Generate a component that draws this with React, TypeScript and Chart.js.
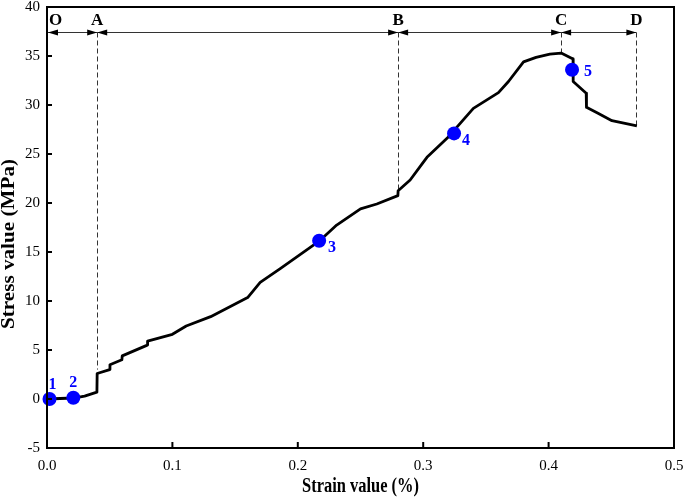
import React, { useEffect, useRef } from 'react';
import { Chart, registerables } from 'chart.js';

Chart.register(...registerables);

// ---- data ----
const strain = [0, 0.021, 0.03, 0.0398, 0.04, 0.05, 0.0502, 0.0597, 0.06, 0.08, 0.0802, 0.1, 0.111, 0.1305, 0.16, 0.17, 0.186, 0.217, 0.231, 0.25, 0.263, 0.2798, 0.28, 0.2896, 0.3, 0.303, 0.319, 0.34, 0.36, 0.368, 0.38, 0.39, 0.401, 0.41, 0.4195, 0.4196, 0.43, 0.4302, 0.4394, 0.4505, 0.4704];
const stress = [0, 0.1, 0.3, 0.7, 2.6, 3.0, 3.5, 4.0, 4.4, 5.5, 5.9, 6.6, 7.45, 8.4, 10.35, 11.9, 13.3, 16.1, 17.75, 19.4, 19.9, 20.75, 21.25, 22.35, 24.15, 24.66, 26.6, 29.66, 31.26, 32.4, 34.4, 34.86, 35.2, 35.3, 34.7, 32.4, 31.2, 29.76, 29.15, 28.4, 27.86];

const markerStrain = [0.002, 0.021, 0.217, 0.3246, 0.4187];
const markerStress = [0, 0.13, 16.15, 27.1, 33.6];
const markerLabels = ['1', '2', '3', '4', '5'];

const stageStrain = [0, 0.04, 0.28, 0.41, 0.47];
const stageLabels = ['O', 'A', 'B', 'C', 'D'];
const stageDashEnd: (number | null)[] = [null, 3.0, 21.3, 35.4, 27.9];
const arrowStress = 37.4;
const stageLabelStress = 38.6;

const xTicks = [0, 0.1, 0.2, 0.3, 0.4, 0.5];
const yTicks = [-5, 0, 5, 10, 15, 20, 25, 30, 35, 40];

const xTitle = 'Strain value (%)';
const yTitle = 'Stress value (MPa)';

// ---- styles ----
const SERIF = '"Liberation Serif", "Times New Roman", serif';
const BLUE = '#0000ff';
const markerLabelOffsets = [[3, -14], [0, -15], [13, 7], [12, 7], [16, 2]];

const annotPlugin = {
  id: 'annot',
  beforeDatasetsDraw(chart: any) {
    const { ctx, scales } = chart;
    const xs = scales.x, ys = scales.y;
    ctx.save();
    // dashed stage lines
    ctx.strokeStyle = '#333';
    ctx.lineWidth = 1;
    ctx.setLineDash([5, 3]);
    stageStrain.forEach((s, i) => {
      const end = stageDashEnd[i];
      if (end === null) return;
      const px = Math.round(xs.getPixelForValue(s)) + 0.5;
      ctx.beginPath();
      ctx.moveTo(px, ys.getPixelForValue(arrowStress));
      ctx.lineTo(px, ys.getPixelForValue(end));
      ctx.stroke();
    });
    ctx.setLineDash([]);
    // arrows
    const py = Math.round(ys.getPixelForValue(arrowStress)) + 0.5;
    ctx.fillStyle = '#000';
    const head = (tip: number, dir: number) => {
      ctx.beginPath();
      ctx.moveTo(tip, py);
      ctx.lineTo(tip - dir * 10, py - 3);
      ctx.lineTo(tip - dir * 10, py + 3);
      ctx.closePath();
      ctx.fill();
    };
    for (let i = 0; i < stageStrain.length - 1; i++) {
      const p0 = xs.getPixelForValue(stageStrain[i]) + (i === 0 ? 1 : 0);
      const p1 = xs.getPixelForValue(stageStrain[i + 1]);
      ctx.beginPath();
      ctx.moveTo(p0, py);
      ctx.lineTo(p1, py);
      ctx.stroke();
      head(p0, -1);
      head(p1, 1);
    }
    // stage labels
    ctx.font = `bold 17px ${SERIF}`;
    ctx.textBaseline = 'middle';
    stageLabels.forEach((l, i) => {
      const px = xs.getPixelForValue(stageStrain[i]);
      ctx.textAlign = i === 0 ? 'left' : 'center';
      ctx.fillText(l, i === 0 ? px + 2 : px, ys.getPixelForValue(stageLabelStress));
    });
    ctx.restore();
  },
  afterDraw(chart: any) {
    const { ctx, scales, chartArea } = chart;
    const xs = scales.x, ys = scales.y;
    ctx.save();
    // frame
    ctx.strokeStyle = '#000';
    ctx.lineWidth = 2;
    ctx.strokeRect(chartArea.left, chartArea.top, chartArea.right - chartArea.left, chartArea.bottom - chartArea.top);
    // inward ticks
    xTicks.forEach((v) => {
      const px = xs.getPixelForValue(v);
      ctx.beginPath();
      ctx.moveTo(px, chartArea.bottom);
      ctx.lineTo(px, chartArea.bottom - 6);
      ctx.stroke();
    });
    yTicks.forEach((v) => {
      const py = ys.getPixelForValue(v);
      ctx.beginPath();
      ctx.moveTo(chartArea.left, py);
      ctx.lineTo(chartArea.left + 5, py);
      ctx.stroke();
    });
    // marker labels
    ctx.fillStyle = BLUE;
    ctx.font = `bold 16px ${SERIF}`;
    ctx.textAlign = 'center';
    ctx.textBaseline = 'middle';
    markerLabels.forEach((l, i) => {
      const px = xs.getPixelForValue(markerStrain[i]) + markerLabelOffsets[i][0];
      const py = ys.getPixelForValue(markerStress[i]) + markerLabelOffsets[i][1];
      ctx.fillText(l, px, py);
    });
    // axis titles
    ctx.fillStyle = '#000';
    ctx.font = `bold 20px ${SERIF}`;
    const wx = ctx.measureText(xTitle).width;
    ctx.save();
    ctx.translate((chartArea.left + chartArea.right) / 2, 487);
    ctx.scale(117 / wx, 1);
    ctx.fillText(xTitle, 0, 0);
    ctx.restore();
    const wy = ctx.measureText(yTitle).width;
    ctx.save();
    ctx.translate(9, 244);
    ctx.rotate(-Math.PI / 2);
    ctx.scale(170 / wy, 0.9);
    ctx.fillText(yTitle, 0, 0);
    ctx.restore();
    ctx.restore();
  },
};

export default function App() {
  const ref = useRef<HTMLCanvasElement>(null);
  useEffect(() => {
    document.body.style.margin = '0';
    const canvas = ref.current!;
    const chart = new Chart(canvas, {
      type: 'scatter',
      data: {
        datasets: [
          {
            data: markerStrain.map((x, i) => ({ x, y: markerStress[i] })),
            pointRadius: 7,
            pointHoverRadius: 7,
            backgroundColor: BLUE,
            borderWidth: 0,
            clip: false,
            order: 0,
          } as any,
          {
            data: strain.map((x, i) => ({ x, y: stress[i] })),
            showLine: true,
            borderColor: '#000',
            borderWidth: 2.8,
            borderJoinStyle: 'round',
            pointRadius: 0,
            fill: false,
            tension: 0,
            clip: false,
            order: 1,
          } as any,
        ],
      },
      options: {
        responsive: false,
        animation: false,
        events: [],
        layout: { padding: { left: 0, top: 7, right: 11, bottom: 0 } },
        plugins: { legend: { display: false }, tooltip: { enabled: false } },
        scales: {
          x: {
            type: 'linear',
            min: 0,
            max: 0.5,
            grid: { display: false, drawTicks: false },
            border: { display: false },
            afterBuildTicks: (s: any) => { s.ticks = xTicks.map((v) => ({ value: v })); },
            afterFit: (s: any) => { s.height = 49; s.paddingLeft = 0; s.paddingRight = 0; },
            ticks: {
              color: '#000',
              padding: 9,
              maxRotation: 0,
              font: { family: SERIF, size: 15 },
              callback: (v: any) => Number(v).toFixed(1),
            },
          },
          y: {
            type: 'linear',
            min: -5,
            max: 40,
            grid: { display: false, drawTicks: false },
            border: { display: false },
            afterBuildTicks: (s: any) => { s.ticks = yTicks.map((v) => ({ value: v })); },
            afterFit: (s: any) => { s.width = 47; s.paddingTop = 0; s.paddingBottom = 0; },
            ticks: {
              color: '#000',
              padding: 7,
              font: { family: SERIF, size: 15 },
              callback: (v: any) => String(v),
            },
          },
        },
      },
      plugins: [annotPlugin],
    });
    return () => chart.destroy();
  }, []);
  return (
    <canvas
      ref={ref}
      width={685}
      height={497}
      style={{ position: 'absolute', left: 0, top: 0, width: 685, height: 497 }}
    />
  );
}
